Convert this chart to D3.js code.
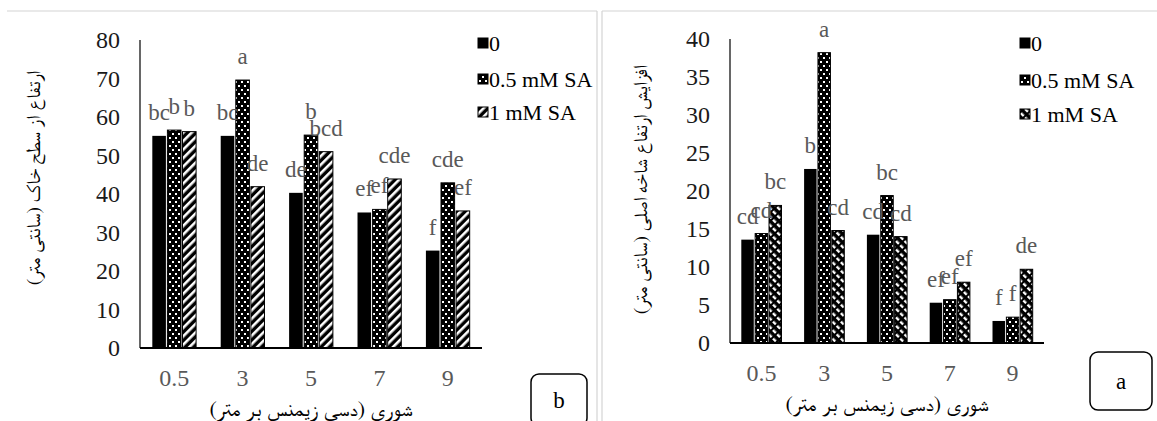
<!DOCTYPE html>
<html>
<head>
<meta charset="utf-8">
<script src="https://cdnjs.cloudflare.com/ajax/libs/d3/7.8.5/d3.min.js"></script>
<style>
  body { margin: 0; background: #fff; }
  svg { display: block; }
</style>
</head>
<body>
<svg id="chart" width="1157" height="421"></svg>
<script>
var categories = ["0.5", "3", "5", "7", "9"];
var seriesNames = ["0", "0.5 mM SA", "1 mM SA"];

// panel b (left): height above soil surface
var heightB0 = [55.1, 55.1, 40.3, 35.2, 25.3];
var heightB05 = [56.6, 69.6, 55.3, 36.0, 42.9];
var heightB1 = [56.2, 41.9, 51.0, 43.9, 35.6];
var lettersB0 = ["bc", "bc", "de", "ef", "f"];
var lettersB05 = ["b", "a", "b", "ef", "cde"];
var lettersB1 = ["b", "de", "bcd", "cde", "ef"];
var ticksB = [0, 10, 20, 30, 40, 50, 60, 70, 80];

// panel a (right): main shoot height increase
var growA0 = [13.6, 22.9, 14.25, 5.3, 2.9];
var growA05 = [14.4, 38.2, 19.4, 5.7, 3.4];
var growA1 = [18.1, 14.8, 14.0, 8.0, 9.7];
var lettersA0 = ["cd", "b", "cd", "ef", "f"];
var lettersA05 = ["cd", "a", "bc", "ef", "f"];
var lettersA1 = ["bc", "cd", "cd", "ef", "de"];
var ticksA = [0, 5, 10, 15, 20, 25, 30, 35, 40];

var FONT = "Liberation Serif";
var AFONT = "FreeSerif";
var svg = d3.select("#chart");
var defs = svg.append("defs");

// dotted fill: white dots on black
function dotPattern(id) {
  var p = defs.append("pattern").attr("id", id).attr("patternUnits", "userSpaceOnUse")
    .attr("width", 6).attr("height", 8);
  p.append("rect").attr("width", 6).attr("height", 8).attr("fill", "#000");
  p.append("rect").attr("x", 1).attr("y", 1).attr("width", 2).attr("height", 2).attr("fill", "#fff");
  p.append("rect").attr("x", 4).attr("y", 5).attr("width", 2).attr("height", 2).attr("fill", "#fff");
}
dotPattern("dotsB");
dotPattern("dotsA");

// wide upward diagonal
var sb = defs.append("pattern").attr("id", "stripeB").attr("patternUnits", "userSpaceOnUse")
  .attr("width", 6).attr("height", 6).attr("patternTransform", "rotate(45)");
sb.append("rect").attr("width", 6).attr("height", 6).attr("fill", "#000");
sb.append("rect").attr("width", 2.6).attr("height", 6).attr("fill", "#fff");

// downward diagonal checker
var sa = defs.append("pattern").attr("id", "stripeA").attr("patternUnits", "userSpaceOnUse")
  .attr("width", 6).attr("height", 6).attr("patternTransform", "rotate(-45)");
sa.append("rect").attr("width", 6).attr("height", 6).attr("fill", "#000");
sa.append("rect").attr("width", 2.4).attr("height", 4).attr("fill", "#fff");

// cell frame lines
var frame = svg.append("g").attr("stroke", "#d4d4d4").attr("stroke-width", 1.2);
frame.append("line").attr("x1", 7).attr("x2", 597).attr("y1", 11).attr("y2", 11);
frame.append("line").attr("x1", 597).attr("x2", 597).attr("y1", 11).attr("y2", 421);
frame.append("line").attr("x1", 602).attr("x2", 1157).attr("y1", 11).attr("y2", 11);
frame.append("line").attr("x1", 602).attr("x2", 602).attr("y1", 11).attr("y2", 421);

function drawPanel(cfg) {
  var g = svg.append("g");
  var x = d3.scaleBand().domain(categories).range([cfg.left, cfg.right]).paddingInner(0.36).paddingOuter(0.18);
  var xs = d3.scaleBand().domain(seriesNames).range([0, x.bandwidth()]).paddingInner(0.1);
  var y = d3.scaleLinear().domain([0, cfg.max]).range([cfg.bottom, cfg.top]);
  var fills = ["#000", "url(#" + cfg.dots + ")", "url(#" + cfg.stripe + ")"];

  // y tick labels
  g.append("g").selectAll("text").data(cfg.ticks).enter().append("text")
    .attr("x", cfg.left - 20).attr("y", function(d) { return y(d); })
    .attr("dy", "0.35em").attr("text-anchor", "end")
    .attr("font-family", FONT).attr("font-size", 24).attr("fill", "#1a1a1a")
    .text(function(d) { return d; });

  cfg.series.forEach(function(vals, si) {
    var name = seriesNames[si];
    g.append("g").selectAll("rect").data(vals).enter().append("rect")
      .attr("x", function(d, i) { return x(categories[i]) + xs(name); })
      .attr("y", function(d) { return y(d); })
      .attr("width", xs.bandwidth())
      .attr("height", function(d) { return y(0) - y(d); })
      .attr("fill", fills[si])
      .attr("stroke", "#000").attr("stroke-width", si === 0 ? 0 : 1);
  });

  cfg.letters.forEach(function(lets, si) {
    var name = seriesNames[si];
    g.append("g").selectAll("text").data(lets).enter().append("text")
      .attr("x", function(d, i) { return x(categories[i]) + xs(name) + xs.bandwidth() / 2; })
      .attr("y", function(d, i) { return y(cfg.series[si][i]) - 16; })
      .attr("text-anchor", "middle").attr("font-family", FONT).attr("font-size", 23).attr("fill", "#595959")
      .text(function(d) { return d; });
  });

  // axes lines
  g.append("line").attr("x1", cfg.left).attr("x2", cfg.left).attr("y1", cfg.top).attr("y2", cfg.bottom)
    .attr("stroke", "#000").attr("stroke-width", 1.2);
  g.append("line").attr("x1", cfg.left).attr("x2", cfg.right).attr("y1", cfg.bottom).attr("y2", cfg.bottom)
    .attr("stroke", "#000").attr("stroke-width", 2);

  // x tick labels
  g.append("g").selectAll("text").data(categories).enter().append("text")
    .attr("x", function(d) { return x(d) + x.bandwidth() / 2; })
    .attr("y", cfg.bottom + 30).attr("dy", "0.35em").attr("text-anchor", "middle")
    .attr("font-family", FONT).attr("font-size", 24).attr("fill", "#595959")
    .text(function(d) { return d; });

  // axis titles
  g.append("text").attr("x", (cfg.left + cfg.right) / 2).attr("y", cfg.bottom + 60)
    .attr("dy", "0.35em").attr("text-anchor", "middle")
    .attr("font-family", AFONT).attr("font-size", 22).attr("fill", "#000")
    .text("شوری (دسی زیمنس بر متر)");
  g.append("text").attr("transform", "translate(" + cfg.ytX + "," + cfg.ytY + ") rotate(-90)")
    .attr("dy", "0.35em").attr("text-anchor", "middle")
    .attr("font-family", AFONT).attr("font-size", 19.5).attr("fill", "#000")
    .text(cfg.yTitle);

  // legend
  var lg = g.append("g").attr("transform", "translate(" + cfg.legX + "," + cfg.legY + ")");
  seriesNames.forEach(function(n, i) {
    var row = lg.append("g").attr("transform", "translate(0," + cfg.legRows[i] + ")");
    row.append("rect").attr("x", 0).attr("y", -5).attr("width", 10).attr("height", 10)
      .attr("fill", fills[i]).attr("stroke", "#000").attr("stroke-width", 1);
    row.append("text").attr("x", 11).attr("y", 0).attr("dy", "0.35em")
      .attr("font-family", FONT).attr("font-size", 22).attr("fill", "#000").text(n);
  });

  // corner panel tag
  var b = cfg.box;
  g.append("rect").attr("x", b[0]).attr("y", b[1]).attr("width", b[2]).attr("height", b[3])
    .attr("rx", 8).attr("fill", "#fff").attr("stroke", "#000").attr("stroke-width", 1.5);
  g.append("text").attr("x", b[0] + b[2] / 2).attr("y", b[1] + b[3] / 2).attr("dy", "0.35em")
    .attr("text-anchor", "middle").attr("font-family", FONT).attr("font-size", 23).attr("fill", "#000").text(cfg.tag);
}

drawPanel({
  left: 140, right: 482, top: 40, bottom: 348, max: 80, ticks: ticksB,
  series: [heightB0, heightB05, heightB1],
  letters: [lettersB0, lettersB05, lettersB1],
  dots: "dotsB", stripe: "stripeB",
  yTitle: "ارتفاع از سطح خاک (سانتی متر)", ytX: 33, ytY: 178,
  legX: 478, legY: 0, legRows: [43, 79, 112],
  box: [531, 374, 56, 52], tag: "b"
});

drawPanel({
  left: 730, right: 1044, top: 39, bottom: 343, max: 40, ticks: ticksA,
  series: [growA0, growA05, growA1],
  letters: [lettersA0, lettersA05, lettersA1],
  dots: "dotsA", stripe: "stripeA",
  yTitle: "افزایش ارتفاع  شاخه اصلی (سانتی متر)", ytX: 640, ytY: 190,
  legX: 1020, legY: 0, legRows: [43, 80, 114],
  box: [1090, 352, 62, 58], tag: "a"
});
</script>
</body>
</html>
